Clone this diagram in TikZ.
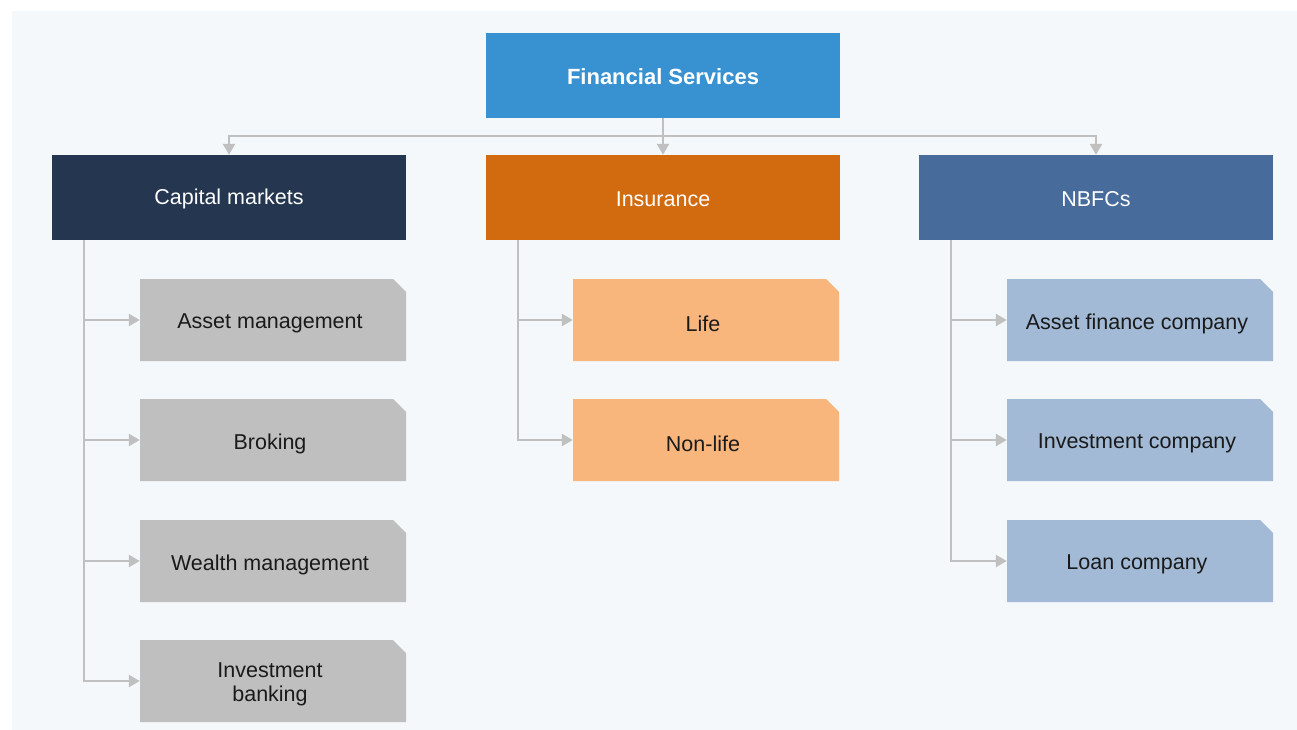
\documentclass[tikz,border=0pt]{standalone}
\usepackage{fontspec}
\setmainfont{Liberation Sans}
\usetikzlibrary{arrows.meta}
\definecolor{bgc}{HTML}{F4F8FA}
\definecolor{fsc}{HTML}{3892D1}
\definecolor{capc}{HTML}{243650}
\definecolor{insc}{HTML}{D26A0F}
\definecolor{nbc}{HTML}{476C9C}
\definecolor{grayk}{HTML}{BFBFBF}
\definecolor{orak}{HTML}{F8B67C}
\definecolor{bluek}{HTML}{A2BAD6}
\definecolor{linec}{HTML}{C0C0C0}
\definecolor{txtc}{HTML}{1A1A1A}
\tikzset{
  head/.style={minimum width=354pt, minimum height=85pt, inner sep=0pt, text=white,
    font=\fontsize{21.5}{24}\selectfont},
  kidbox/.style={minimum width=266pt, minimum height=82pt, inner sep=0pt, text=txtc,
    align=center, font=\fontsize{21.5}{24}\selectfont},
  conn/.style={draw=linec, line width=2.4pt, -{Triangle[width=12pt,length=11pt]}},
}
\newcommand\kid[5]{%
  \fill[#4] (#2-133,#3-41) -- (#2+120,#3-41) -- (#2+133,#3-28) -- (#2+133,#3+41) -- (#2-133,#3+41) -- cycle;
  \node[kidbox] (#1) at (#2,#3) {};
  \node[kidbox, minimum width=0pt, minimum height=0pt] at (#2-3,#3+3.5) {#5};}
\begin{document}
\begin{tikzpicture}[x=1pt,y=-1pt]
\useasboundingbox (0,0) rectangle (1297,730);
\fill[white] (0,0) rectangle (1297,730);
\fill[bgc] (12,11) rectangle (1297,730);

\node[head, fill=fsc] (fs) at (663,75.5) {};
\node[font=\fontsize{22}{24}\selectfont\bfseries, text=white] at (663,76.5) {Financial Services};
\node[head, fill=capc] (cap) at (229,197.5) {};
\node[text=white, font=\fontsize{21.5}{24}\selectfont] at (229,199) {Capital markets};
\node[head, fill=insc] (ins) at (663,197.5) {};
\node[text=white, font=\fontsize{21.5}{24}\selectfont] at (663,199) {Insurance};
\node[head, fill=nbc] (nb) at (1096,197.5) {};
\node[text=white, font=\fontsize{21.5}{24}\selectfont] at (1096,199) {NBFCs};

\coordinate (bus) at (663,136);
\draw[conn] (fs.south) -- (ins.north);
\draw[conn] (bus) -| (cap.north);
\draw[conn] (bus) -| (nb.north);

\kid{am}{273}{320}{grayk}{Asset management}
\kid{br}{273}{440}{grayk}{Broking}
\kid{wm}{273}{561}{grayk}{Wealth management}
\kid{ib}{273}{681}{grayk}{Investment\\banking}
\kid{life}{706}{320}{orak}{Life}
\kid{nl}{706}{440}{orak}{Non-life}
\kid{af}{1140}{320}{bluek}{Asset finance company}
\kid{ic}{1140}{440}{bluek}{Investment company}
\kid{lc}{1140}{561}{bluek}{Loan company}

\coordinate (ct) at (84,240);
\coordinate (it) at (518,240);
\coordinate (nt) at (951,240);
\foreach \k in {am,br,wm,ib} \draw[conn] (ct) |- (\k.west);
\foreach \k in {life,nl} \draw[conn] (it) |- (\k.west);
\foreach \k in {af,ic,lc} \draw[conn] (nt) |- (\k.west);
\end{tikzpicture}
\end{document}
